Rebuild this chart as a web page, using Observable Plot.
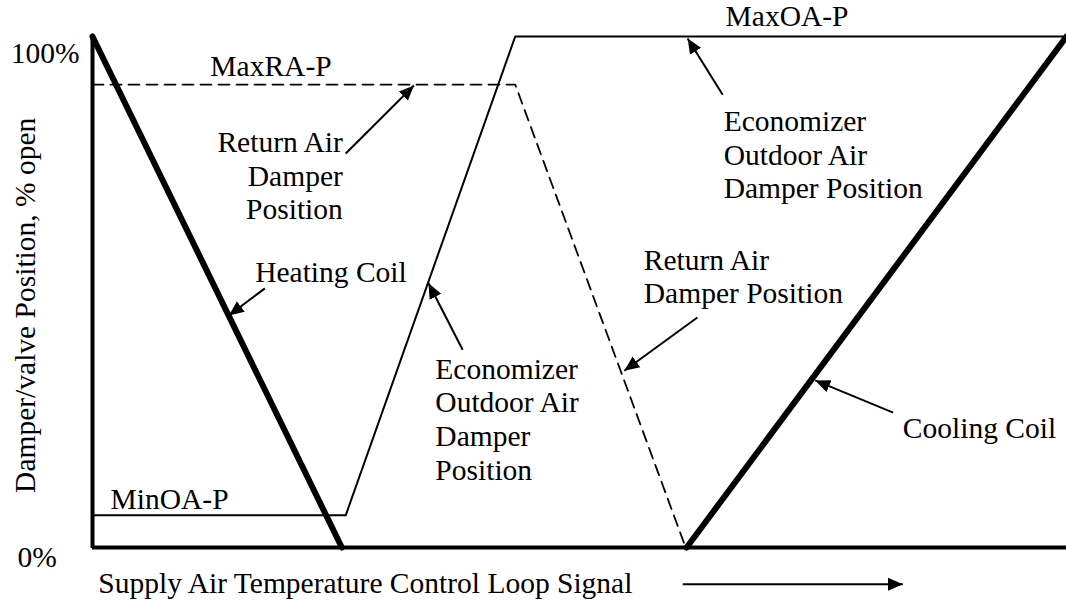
<!DOCTYPE html>
<html><head><meta charset="utf-8">
<script src="https://cdn.jsdelivr.net/npm/d3@7"></script>
<script src="https://cdn.jsdelivr.net/npm/@observablehq/plot@0.6"></script>
<style>html,body{margin:0;padding:0;background:#fff;} #chart{width:1066px;height:602px;} svg text{font-family:"Liberation Serif","Times New Roman",serif;}</style>
</head><body><div id="chart"></div>
<script>
// Supply air temperature control loop signal (0-100) vs position (% open)
const heatingSignal = [0, 25.6];
const heatingPos = [100, 0];
const coolingSignal = [61.0, 100];
const coolingPos = [0, 100];
const outdoorAirSignal = [0, 26.0, 43.4, 100];
const outdoorAirPos = [6.3, 6.3, 100, 100];
const returnAirSignal = [0, 43.4, 60.9];
const returnAirPos = [90.6, 90.6, 0];

// tick labels
const tickLabels = ["100%", "0%"];
const tickLabelX = [-8.4, -7.7];
const tickLabelY = [94.9, -3.9];

// annotation labels (start-anchored)
const noteText = ["MaxRA-P", "MaxOA-P", "MinOA-P", "Heating Coil",
  "Economizer\nOutdoor Air\nDamper\nPosition", "Return Air\nDamper Position",
  "Economizer\nOutdoor Air\nDamper Position", "Cooling Coil",
  "Supply Air Temperature Control Loop Signal"];
const noteX = [12.1, 65.0, 1.85, 16.7, 35.2, 56.6, 64.8, 83.2, 0.6];
const noteY = [92.2, 102.0, 7.6, 51.9, 13.3, 47.8, 68.3, 21.5, -9.0];
// end-anchored annotation
const noteEndText = ["Return Air\nDamper\nPosition"];
const noteEndX = [25.7];
const noteEndY = [64.2];

// arrows (from -> to)
const arrowX1 = [26.0, 17.7, 38.0, 62.1, 64.7, 82.2, 60.6];
const arrowY1 = [77.1, 50.7, 38.7, 45.0, 88.6, 26.4, -7.2];
const arrowX2 = [33.0, 14.0, 34.5, 54.6, 61.1, 74.2, 83.2];
const arrowY2 = [90.4, 45.4, 51.7, 34.6, 99.6, 32.7, -7.2];

const yLabel = "Damper/valve Position, % open";

const toRows = (xs, ys) => xs.map((x, i) => ({signal: x, pos: ys[i]}));
const notes = noteText.map((t, i) => ({t, x: noteX[i], y: noteY[i]}));
const notesEnd = noteEndText.map((t, i) => ({t, x: noteEndX[i], y: noteEndY[i]}));
const ticks = tickLabels.map((t, i) => ({t, x: tickLabelX[i], y: tickLabelY[i]}));
const arrows = arrowX1.map((x1, i) => ({x1, y1: arrowY1[i], x2: arrowX2[i], y2: arrowY2[i]}));

const FS = 29.5;
const LH = 1.14;
const FF = "Liberation Serif";
const svg = Plot.plot({
  width: 1066, height: 602,
  marginLeft: 92, marginRight: 0, marginTop: 36, marginBottom: 55,
  x: {domain: [0, 100], axis: null},
  y: {domain: [0, 100], axis: null},
  style: {background: "#fff", color: "#000", overflow: "visible"},
  marks: [
    Plot.line(toRows(outdoorAirSignal, outdoorAirPos), {x: "signal", y: "pos", strokeWidth: 2, stroke: "#000"}),
    Plot.line(toRows(returnAirSignal, returnAirPos), {x: "signal", y: "pos", strokeWidth: 1.8, stroke: "#000", strokeDasharray: "11,7"}),
    Plot.line(toRows(heatingSignal, heatingPos), {x: "signal", y: "pos", strokeWidth: 6, stroke: "#000"}),
    Plot.line(toRows(coolingSignal, coolingPos), {x: "signal", y: "pos", strokeWidth: 6, stroke: "#000"}),
    Plot.ruleY([0], {strokeWidth: 4, stroke: "#000"}),
    Plot.ruleX([0], {y1: -0.2, y2: 100.2, strokeWidth: 4, stroke: "#000"}),
    Plot.link(arrows, {x1: "x1", y1: "y1", x2: "x2", y2: "y2", strokeWidth: 2, stroke: "#000", markerEnd: "arrow"}),
    Plot.text(ticks, {x: "x", y: "y", text: "t", textAnchor: "start", lineAnchor: "bottom", fontSize: FS, fontFamily: FF, fill: "#000"}),
    Plot.text(notes, {x: "x", y: "y", text: "t", textAnchor: "start", lineAnchor: "bottom", lineHeight: LH, fontSize: FS, fontFamily: FF, fill: "#000"}),
    Plot.text(notesEnd, {x: "x", y: "y", text: "t", textAnchor: "end", lineAnchor: "bottom", lineHeight: LH, fontSize: FS, fontFamily: FF, fill: "#000"}),
    Plot.text([yLabel], {x: -6.88, y: 47.4, text: d => d, rotate: -90, textAnchor: "middle", lineAnchor: "middle", fontSize: FS, fontFamily: FF, fill: "#000"})
  ]
});

// filled triangular arrowheads
svg.querySelectorAll("marker").forEach(m => {
  m.setAttribute("viewBox", "-15 -7 15 14");
  m.setAttribute("markerWidth", "15");
  m.setAttribute("markerHeight", "14");
  m.setAttribute("markerUnits", "userSpaceOnUse");
  m.setAttribute("refX", "0");
  m.setAttribute("refY", "0");
  m.innerHTML = '<path d="M-15,-6.5L0,0L-15,6.5Z" fill="#000" stroke="none"/>';
});
document.getElementById("chart").appendChild(svg);
</script>
</body></html>
